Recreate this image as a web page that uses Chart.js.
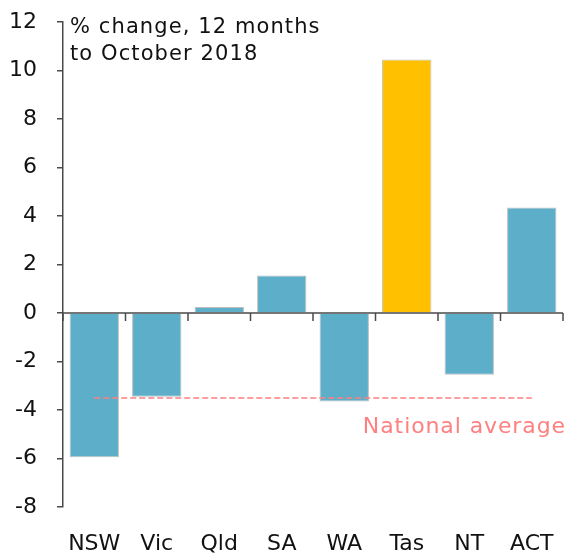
<!DOCTYPE html>
<html>
<head>
<meta charset="utf-8">
<script src="https://cdn.jsdelivr.net/npm/chart.js@4"></script>
<style>
  html, body { margin: 0; padding: 0; background: #fff; }
  #wrap { width: 570px; height: 554px; }
</style>
</head>
<body>
<div id="wrap"><canvas id="chart" width="570" height="554"></canvas></div>
<script>
// --- Data ---
const states = ['NSW', 'Vic', 'Qld', 'SA', 'WA', 'Tas', 'NT', 'ACT'];
const priceChange = [-5.95, -3.45, 0.25, 1.55, -3.65, 10.45, -2.55, 4.35];
const nationalAvg = [-3.5, -3.5, -3.5, -3.5, -3.5, -3.5, -3.5, -3.5];
const titleLines = ['% change, 12 months', 'to October 2018'];
const avgLabel = 'National average';

const FONT = '"DejaVu Sans", sans-serif';
const BLUE = '#5DAEC9';
const GOLD = '#FFC000';
const AXIS = '#4a4a4a';

// --- Zero line, boundary ticks and text ---
const overlay = {
    id: 'overlay',
    afterDatasetsDraw(chart) {
        const { ctx, chartArea, scales: { x, y } } = chart;
        const y0 = y.getPixelForValue(0);
        ctx.save();
        ctx.strokeStyle = AXIS;
        ctx.lineWidth = 1.5;
        ctx.beginPath();
        ctx.moveTo(chartArea.left, y0);
        ctx.lineTo(chartArea.right, y0);
        // tick marks between categories
        const step = x.getPixelForValue(1) - x.getPixelForValue(0);
        for (let i = 0; i <= states.length; i++) {
            const px = x.getPixelForValue(i) - step / 2;
            ctx.moveTo(px, y0);
            ctx.lineTo(px, y0 + 8);
        }
        ctx.stroke();

        // title text
        ctx.fillStyle = '#111';
        ctx.font = '21px ' + FONT;
        ctx.letterSpacing = '1.1px';
        ctx.textAlign = 'left';
        ctx.textBaseline = 'middle';
        titleLines.forEach((t, i) => ctx.fillText(t, chartArea.left + 7, chartArea.top + 6 + i * 27));

        // national average label
        ctx.fillStyle = '#FF8080';
        ctx.font = '22px ' + FONT;
        ctx.letterSpacing = '0.9px';
        ctx.textAlign = 'right';
        ctx.fillText(avgLabel, chartArea.right + 3, y.getPixelForValue(-4.7));
        ctx.restore();
    }
};

new Chart(document.getElementById('chart').getContext('2d'), {
    data: {
        labels: states,
        datasets: [
            {
                type: 'line',
                data: nationalAvg,
                borderColor: '#FF7F7F',
                borderWidth: 1.5,
                borderDash: [6, 3],
                pointRadius: 0,
                fill: false,
                order: 0
            },
            {
                type: 'bar',
                data: priceChange,
                backgroundColor: states.map(s => s === 'Tas' ? GOLD : BLUE),
                borderColor: '#BFBFBF',
                borderWidth: 1,
                barPercentage: 0.79,
                categoryPercentage: 1,
                order: 1
            }
        ]
    },
    options: {
        responsive: false,
        animation: false,
        layout: { padding: { top: 22, right: 7, left: 0, bottom: 0 } },
        plugins: {
            legend: { display: false },
            tooltip: { enabled: false }
        },
        scales: {
            x: {
                grid: { display: false, drawTicks: false },
                border: { display: false },
                ticks: {
                    color: '#111',
                    font: { family: FONT, size: 22 },
                    padding: 24,
                    maxRotation: 0
                },
                afterFit(scale) {
                    scale.height = 47;
                    scale.paddingLeft = 0;
                    scale.paddingRight = 0;
                }
            },
            y: {
                min: -8,
                max: 12,
                ticks: {
                    stepSize: 2,
                    color: '#111',
                    font: { family: FONT, size: 22 },
                    padding: 20
                },
                grid: {
                    drawOnChartArea: false,
                    drawTicks: true,
                    tickLength: 6,
                    tickColor: AXIS,
                    lineWidth: 1.5
                },
                border: { display: true, color: AXIS, width: 1.5 },
                afterFit(scale) {
                    scale.width = 63;
                    scale.paddingTop = 0;
                    scale.paddingBottom = 0;
                }
            }
        }
    },
    plugins: [overlay]
});
</script>
</body>
</html>
